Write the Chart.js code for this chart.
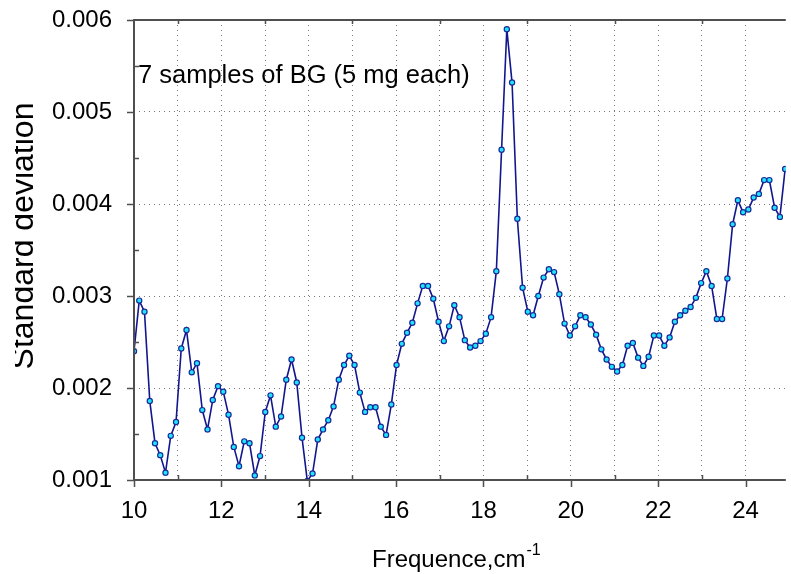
<!DOCTYPE html>
<html>
<head>
<meta charset="utf-8">
<script src="https://cdn.jsdelivr.net/npm/chart.js@4.4.0/dist/chart.umd.min.js"></script>
<style>
  html, body { margin: 0; padding: 0; background: #ffffff; }
  #wrap { width: 791px; height: 574px; position: relative; }
</style>
</head>
<body>
<div id="wrap"><canvas id="c" width="791" height="574"></canvas></div>
<script>
// ---- data ----
const freqs = [
  10.000, 10.120, 10.240, 10.361, 10.481, 10.601, 10.721, 10.841, 10.962, 11.082,
  11.202, 11.322, 11.442, 11.563, 11.683, 11.803, 11.923, 12.043, 12.164, 12.284,
  12.404, 12.524, 12.644, 12.765, 12.885, 13.005, 13.125, 13.245, 13.366, 13.486,
  13.606, 13.726, 13.846, 13.967, 14.087, 14.207, 14.327, 14.447, 14.568, 14.688,
  14.808, 14.928, 15.048, 15.169, 15.289, 15.409, 15.529, 15.649, 15.770, 15.890,
  16.010, 16.130, 16.250, 16.371, 16.491, 16.611, 16.731, 16.851, 16.972, 17.092,
  17.212, 17.332, 17.452, 17.573, 17.693, 17.813, 17.933, 18.053, 18.174, 18.294,
  18.414, 18.534, 18.654, 18.775, 18.895, 19.015, 19.135, 19.255, 19.376, 19.496,
  19.616, 19.736, 19.856, 19.977, 20.097, 20.217, 20.337, 20.457, 20.578, 20.698,
  20.818, 20.938, 21.058, 21.179, 21.299, 21.419, 21.539, 21.659, 21.780, 21.900,
  22.020, 22.140, 22.260, 22.381, 22.501, 22.621, 22.741, 22.861, 22.982, 23.102,
  23.222, 23.342, 23.462, 23.583, 23.703, 23.823, 23.943, 24.063, 24.184, 24.304,
  24.424, 24.544, 24.664, 24.785, 24.905
];
const stdDev = [
  0.00240, 0.00295, 0.00283, 0.00186, 0.00140, 0.00127, 0.00108, 0.00148, 0.00163, 0.00243,
  0.00263, 0.00217, 0.00227, 0.00176, 0.00155, 0.00187, 0.00202, 0.00196, 0.00171, 0.00136,
  0.00115, 0.00142, 0.00140, 0.00105, 0.00126, 0.00174, 0.00192, 0.00158, 0.00169, 0.00209,
  0.00231, 0.00206, 0.00146, 0.00099, 0.00107, 0.00144, 0.00155, 0.00165, 0.00180, 0.00209,
  0.00225, 0.00235, 0.00225, 0.00195, 0.00174, 0.00179, 0.00179, 0.00158, 0.00149, 0.00182,
  0.00225, 0.00248, 0.00260, 0.00271, 0.00292, 0.00311, 0.00311, 0.00297, 0.00272, 0.00251,
  0.00267, 0.00290, 0.00277, 0.00252, 0.00244, 0.00246, 0.00251, 0.00259, 0.00277, 0.00327,
  0.00459, 0.00590, 0.00532, 0.00384, 0.00309, 0.00283, 0.00279, 0.00300, 0.00320, 0.00329,
  0.00326, 0.00302, 0.00270, 0.00257, 0.00267, 0.00279, 0.00277, 0.00269, 0.00258, 0.00242,
  0.00231, 0.00223, 0.00218, 0.00225, 0.00246, 0.00249, 0.00233, 0.00224, 0.00234, 0.00257,
  0.00257, 0.00246, 0.00255, 0.00272, 0.00279, 0.00284, 0.00288, 0.00298, 0.00314, 0.00327,
  0.00311, 0.00275, 0.00275, 0.00319, 0.00378, 0.00404, 0.00391, 0.00394, 0.00407, 0.00411,
  0.00426, 0.00426, 0.00396, 0.00386, 0.00438
];
const xLabelValues = [10, 12, 14, 16, 18, 20, 22, 24];
const yTickValues = [0.001, 0.002, 0.003, 0.004, 0.005, 0.006];
const annotationText = '7 samples of BG (5 mg each)';
const yTitle = 'Standard deviation';
const xTitleMain = 'Frequence,cm';
const xTitleSup = '-1';

const FONT = '"Liberation Sans", Arial, Helvetica, sans-serif';
const AXIS_COLOR = '#4f4f4f';
const GRID_COLOR = '#7a7a7a';

const points = freqs.map((f, i) => ({ x: f, y: stdDev[i] }));

const decoPlugin = {
  id: 'deco',
  afterDatasetsDraw(chart) {
    const { ctx, chartArea: a, scales: { x, y } } = chart;
    ctx.save();
    // axis lines
    ctx.strokeStyle = AXIS_COLOR;
    ctx.lineWidth = 2;
    ctx.beginPath();
    ctx.moveTo(a.left, a.top - 1);
    ctx.lineTo(a.left, a.bottom + 1);
    ctx.moveTo(a.left - 1, a.bottom);
    ctx.lineTo(a.right, a.bottom);
    ctx.moveTo(a.left - 1, a.top);
    ctx.lineTo(a.right, a.top);
    ctx.stroke();
    // x ticks
    ctx.lineWidth = 1.5;
    ctx.beginPath();
    x.ticks.forEach(t => {
      const px = Math.round(x.getPixelForValue(t.value)) + 0.5;
      if (xLabelValues.includes(t.value)) {
        ctx.moveTo(px, a.bottom);
        ctx.lineTo(px, a.bottom + 7);
      } else {
        ctx.moveTo(px, a.bottom);
        ctx.lineTo(px, a.bottom - 5);
        ctx.moveTo(px, a.top);
        ctx.lineTo(px, a.top + 4);
      }
    });
    // y ticks
    yTickValues.forEach((v, i) => {
      const py = Math.round(y.getPixelForValue(v)) + 0.5;
      ctx.moveTo(a.left, py);
      ctx.lineTo(a.left - 7, py);
      if (i < yTickValues.length - 1) {
        const mid = (v + yTickValues[i + 1]) / 2;
        const pm = Math.round(y.getPixelForValue(mid)) + 0.5;
        ctx.moveTo(a.left, pm);
        ctx.lineTo(a.left + 5, pm);
      }
    });
    ctx.stroke();

    // annotation text
    ctx.fillStyle = '#000';
    ctx.font = '25.5px ' + FONT;
    ctx.textAlign = 'left';
    ctx.textBaseline = 'alphabetic';
    ctx.fillText(annotationText, a.left + 4, 83);

    // x title with superscript
    ctx.font = '24px ' + FONT;
    const wMain = ctx.measureText(xTitleMain).width;
    const startX = 372;
    ctx.fillText(xTitleMain, startX, 567);
    ctx.font = '16px ' + FONT;
    ctx.fillText(xTitleSup, startX + wMain + 1, 555);

    // y title, clipped on its left like the reference
    ctx.save();
    ctx.beginPath();
    ctx.rect(15, 0, 118, chart.height);
    ctx.clip();
    ctx.translate(33, 236);
    ctx.rotate(-Math.PI / 2);
    ctx.font = '32px ' + FONT;
    ctx.textAlign = 'center';
    ctx.textBaseline = 'alphabetic';
    ctx.fillText(yTitle, 0, 0);
    ctx.restore();

    ctx.restore();
  }
};

new Chart(document.getElementById('c'), {
  type: 'line',
  data: {
    datasets: [{
      data: points,
      borderColor: '#12168c',
      borderWidth: 1.6,
      pointRadius: 2.6,
      pointBorderWidth: 1.2,
      pointBackgroundColor: '#1ee6ff',
      pointBorderColor: '#1b2a9a',
      tension: 0,
      fill: false
    }]
  },
  options: {
    responsive: false,
    animation: false,
    layout: { padding: { top: 20, right: 0, bottom: 0, left: 0 } },
    plugins: { legend: { display: false }, tooltip: { enabled: false }, title: { display: false } },
    scales: {
      x: {
        type: 'linear',
        min: 10,
        max: 24.92,
        afterFit(scale) { scale.height = 94; },
        ticks: {
          stepSize: 1,
          includeBounds: false,
          autoSkip: false,
          maxRotation: 0,
          padding: 17,
          color: '#000',
          font: { family: FONT, size: 24 },
          callback: v => xLabelValues.includes(v) ? String(v) : ''
        },
        grid: { color: GRID_COLOR, lineWidth: 1, drawTicks: false },
        border: { display: false, dash: [1, 4] }
      },
      y: {
        type: 'linear',
        min: 0.001,
        max: 0.006,
        afterFit(scale) { scale.width = 134; },
        ticks: {
          stepSize: 0.001,
          padding: 0,
          color: '#000',
          font: { family: FONT, size: 24 },
          callback: v => Number(v).toFixed(3)
        },
        grid: { color: GRID_COLOR, lineWidth: 1, drawTicks: true, tickLength: 22, tickColor: 'rgba(0,0,0,0)' },
        border: { display: false, dash: [1, 4] }
      }
    }
  },
  plugins: [decoPlugin]
});
</script>
</body>
</html>
